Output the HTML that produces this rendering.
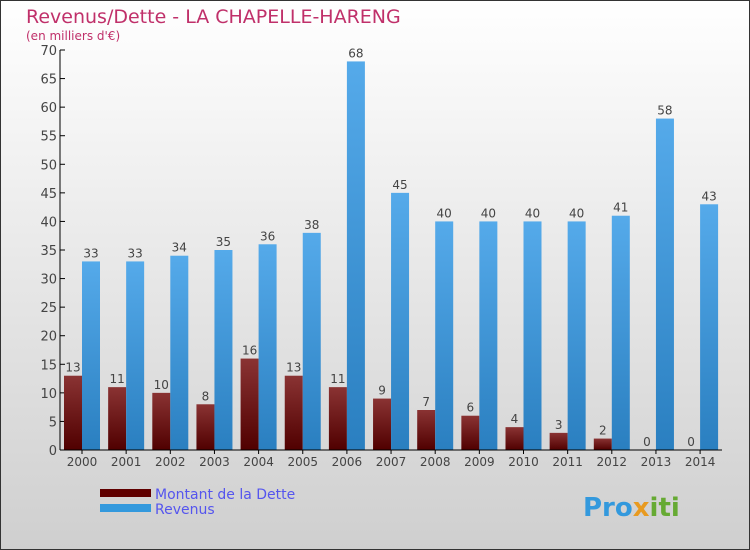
<!DOCTYPE html>
<html><head><meta charset="utf-8"><style>
body{margin:0}
#c{width:750px;height:550px;position:relative;overflow:hidden;font-family:"DejaVu Sans","Liberation Sans",sans-serif}
</style></head><body>
<div id="c">
<svg width="750" height="550">
<defs>
<linearGradient id="bg" x1="0" y1="0" x2="0" y2="1"><stop offset="0" stop-color="#ffffff"/><stop offset="1" stop-color="#cfcfcf"/></linearGradient>
<linearGradient id="rd" x1="0" y1="0" x2="0" y2="1"><stop offset="0" stop-color="#8a3333"/><stop offset="1" stop-color="#500000"/></linearGradient>
<linearGradient id="bl" x1="0" y1="0" x2="0" y2="1"><stop offset="0" stop-color="#55aaea"/><stop offset="1" stop-color="#2a7fc0"/></linearGradient>
</defs>
<rect x="0.5" y="0.5" width="749" height="549" fill="url(#bg)" stroke="#333"/>
<text x="26" y="23" font-size="19" fill="#c0306a">Revenus/Dette - LA CHAPELLE-HARENG</text>
<text x="26" y="40" font-size="12" fill="#c0306a">(en milliers d'€)</text>
<g id="plot"></g>
<rect x="100" y="489" width="51" height="8" fill="#600000"/>
<text x="155" y="499" font-size="14" fill="#5555ee">Montant de la Dette</text>
<rect x="100" y="504" width="51" height="8" fill="#3399dd"/>
<text x="155" y="514" font-size="14" fill="#5555ee">Revenus</text>
<text x="583" y="516" font-size="26" font-weight="bold"><tspan fill="#3399dd">Pro</tspan><tspan fill="#e89a20">x</tspan><tspan fill="#66aa33">iti</tspan></text>
</svg>
</div>
<script>
const years=["2000","2001","2002","2003","2004","2005","2006","2007","2008","2009","2010","2011","2012","2013","2014"];
const dette=[13,11,10,8,16,13,11,9,7,6,4,3,2,0,0];
const revenus=[33,33,34,35,36,38,68,45,40,40,40,40,41,58,43];
const yTicks=[0,5,10,15,20,25,30,35,40,45,50,55,60,65,70];
const NS="http://www.w3.org/2000/svg";
const g=document.getElementById('plot');
const y0=450,yTop=50,yMax=70,x0=60,step=44.15,bw=18;
const ys=v=>y0-(v/yMax)*(y0-yTop);
const xc=i=>82+i*step;
function mk(t,a,txt){const e=document.createElementNS(NS,t);for(const k in a)e.setAttribute(k,a[k]);if(txt!==undefined)e.textContent=txt;g.appendChild(e);return e;}
yTicks.forEach(v=>{
 const l=mk('line',{x1:x0,x2:x0+5,y1:ys(v),y2:ys(v),stroke:'#000'});
 
 
 const t=mk('text',{x:x0-3,y:ys(v)+5,'font-size':13,fill:'#444','text-anchor':'end'},v);
 
 
});
years.forEach((yr,i)=>{
 const c=xc(i);
 const r=mk('rect',{x:c-bw,y:ys(dette[i]),width:bw,height:y0-ys(dette[i]),fill:'url(#rd)'});
 
 
 const b=mk('rect',{x:c,y:ys(revenus[i]),width:bw,height:y0-ys(revenus[i]),fill:'url(#bl)'});
 
 
 const t1=mk('text',{x:c-bw/2,y:ys(dette[i])-4,'font-size':12,fill:'#444','text-anchor':'middle'},dette[i]);
 
 
 const t2=mk('text',{x:c+bw/2,y:ys(revenus[i])-4,'font-size':12,fill:'#444','text-anchor':'middle'},revenus[i]);
 
 
 const tk=mk('line',{x1:c,x2:c,y1:y0,y2:y0+4,stroke:'#000'});
 
 
 const xl=mk('text',{x:c,y:y0+16,'font-size':12,fill:'#444','text-anchor':'middle'},yr);
 
 
});
const ya=mk('line',{x1:x0,x2:x0,y1:yTop,y2:y0,stroke:'#000'});


const xa=mk('line',{x1:x0,x2:722,y1:y0,y2:y0,stroke:'#000'});


</script>
</body></html>
